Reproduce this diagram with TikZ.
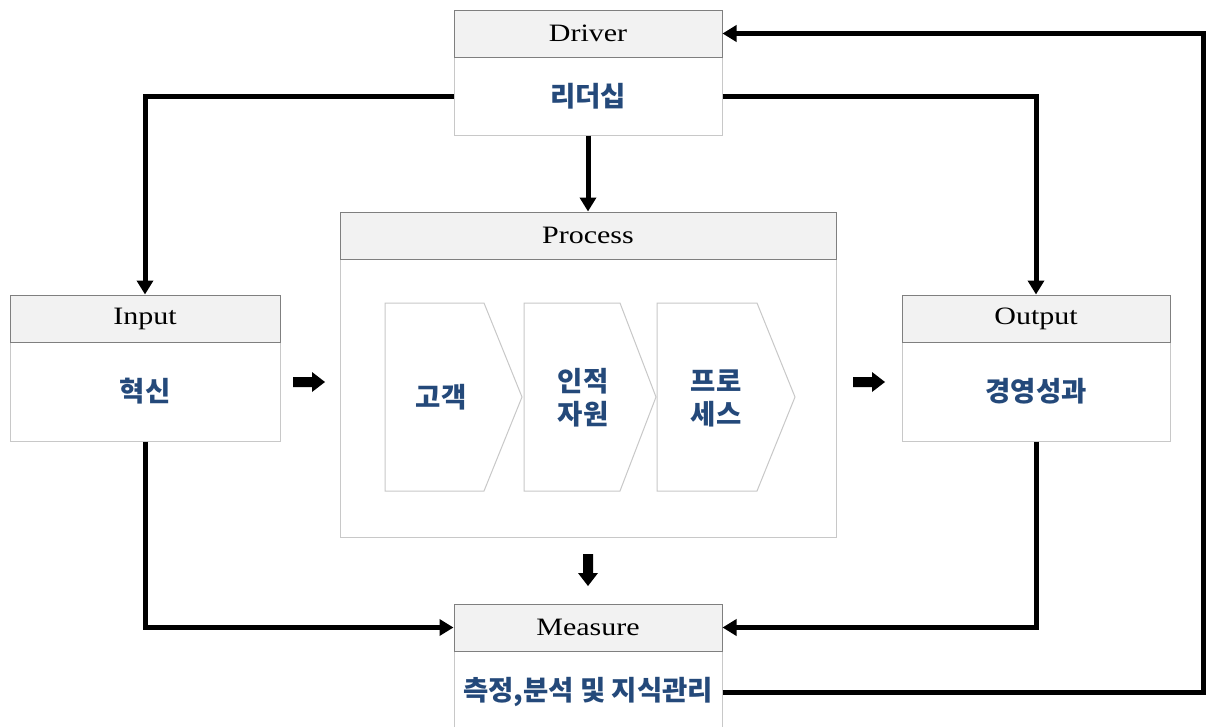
\documentclass[tikz,border=0pt]{standalone}
\usepackage{fontspec}
\setmainfont{Liberation Serif}[FakeStretch=1.2]
\newfontfamily\kr{Noto Sans CJK KR}
\usetikzlibrary{arrows.meta}
\definecolor{krblue}{HTML}{24497A}
\definecolor{hdrfill}{HTML}{F2F2F2}
\definecolor{hdrline}{HTML}{7F7F7F}
\definecolor{bodyline}{HTML}{C8C8C8}
\tikzset{
  hdr/.style={draw=hdrline, fill=hdrfill, line width=1pt, minimum height=47pt, inner sep=0pt,
    font=\fontsize{25}{27}\selectfont},
  bdy/.style={draw=bodyline, fill=white, line width=1pt, inner sep=0pt, align=center,
    font=\kr\bfseries\fontsize{27.5}{33}\selectfont, text=krblue},
  lbl/.style={inner sep=0pt, align=center, font=\kr\bfseries\fontsize{27.5}{33}\selectfont, text=krblue},
  chev/.style={draw=bodyline, fill=white, line width=1pt},
  conn/.style={line width=5pt, -{Triangle[length=14pt,width=16pt]}},
  blkarrow/.style={fill=black, draw=none}
}
\begin{document}
\begin{tikzpicture}[x=1pt,y=-1pt]
\useasboundingbox[fill=white] (0,0) rectangle (1208,726);
% bodies
\node[bdy, minimum width=268pt, minimum height=78pt] (Db) at (588,96) {리더십};
\node[bdy, minimum width=270pt, minimum height=99pt] (Ib) at (145,391.5) {혁신};
\node[bdy, minimum width=268pt, minimum height=99pt] (Ob) at (1036,391.5) {경영성과};
\node[bdy, minimum width=496pt, minimum height=278pt] (Pb) at (588,398) {};
\node[bdy, minimum width=268pt, minimum height=82pt] (Mb) at (588,692) {측정,분석 및 지식관리};
% headers
\node[hdr, minimum width=268pt] (Dh) at (588,33.5) {Driver};
\node[hdr, minimum width=270pt] (Ih) at (145,318.5) {Input};
\node[hdr, minimum width=268pt] (Oh) at (1036,318.5) {Output};
\node[hdr, minimum width=496pt] (Ph) at (588,235.5) {Process};
\node[hdr, minimum width=268pt] (Mh) at (588,627.5) {Measure};
% chevrons
\draw[chev] (385,303) -- (484,303) -- (522,397) -- (484,491) -- (385,491) -- cycle;
\draw[chev] (524,303) -- (620,303) -- (656,397) -- (620,491) -- (524,491) -- cycle;
\draw[chev] (657,303) -- (757,303) -- (795,397) -- (757,491) -- (657,491) -- cycle;
\node[lbl] (c1) at (441,397) {고객};
\node[lbl] (c2) at (583,398) {인적\\자원};
\node[lbl] (c3) at (716,398) {프로\\세스};
% block arrows
\coordinate (ba) at (293,382);
\coordinate (bb) at (853,382);
\coordinate (bc) at (588,554);
\foreach \c in {ba,bb}{
  \fill[blkarrow] (\c) ++(0,-5) -- ++(19,0) -- ++(0,-5) -- ++(13,10) -- ++(-13,10) -- ++(0,-5) -- ++(-19,0) -- cycle;
}
\fill[blkarrow] (bc) ++(-5,0) -- ++(0,19) -- ++(-5,0) -- ++(10,13) -- ++(10,-13) -- ++(-5,0) -- ++(0,-19) -- cycle;
% connectors
\coordinate (R) at (1203,0);
\draw[conn] (Db.west) -| (Ih.north);
\draw[conn] (Db.east) -| (Oh.north);
\draw[conn] (Db.south) -- (Ph.north);
\draw[conn] (Ib.south) |- (Mh.west);
\draw[conn] (Ob.south) |- (Mh.east);
\draw[conn] (Mb.east) -- (Mb.east -| R) -- (Dh.east -| R) -- (Dh.east);
\end{tikzpicture}
\end{document}
